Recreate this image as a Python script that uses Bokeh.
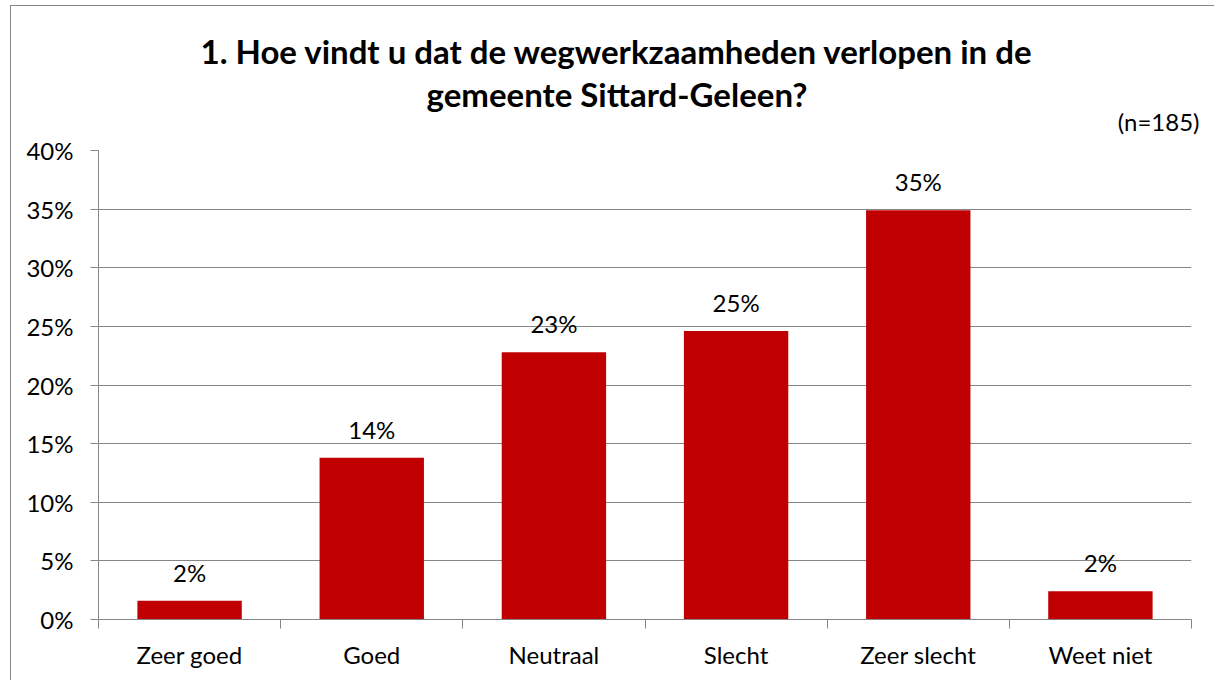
from bokeh.plotting import figure
from bokeh.models import (ColumnDataSource, FixedTicker, NumeralTickFormatter,
                          Range1d, Title)
from bokeh.core.properties import value
from bokeh.embed import file_html
from bokeh.resources import INLINE

# ---- data ----
categories = ["Zeer goed", "Goed", "Neutraal", "Slecht", "Zeer slecht", "Weet niet"]
values = [0.016, 0.138, 0.228, 0.246, 0.349, 0.024]
title_lines = ["1. Hoe vindt u dat de wegwerkzaamheden verlopen in de",
               "gemeente Sittard-Geleen?"]
n_note = "(n=185)"
y_ticks = [0.0, 0.05, 0.10, 0.15, 0.20, 0.25, 0.30, 0.35, 0.40]

FONT = "Lato"
GRAY = "#868686"
BAR = "#C00000"

xpos = [i + 0.5 for i in range(len(categories))]
labels = [f"{v:.0%}" for v in values]
src = ColumnDataSource(dict(x=xpos, top=values, lab=labels))

p = figure(width=1204, height=675, output_backend="svg", toolbar_location=None,
           x_range=Range1d(0, len(categories)), y_range=Range1d(0, 0.40),
           min_border_left=87, min_border_right=24, min_border_top=144,
           min_border_bottom=62)
p.styles = {"border-left": f"1px solid {GRAY}", "border-top": f"1px solid {GRAY}",
            "border-right": "none", "border-bottom": "none",
            "margin-left": "10px", "margin-top": "5px"}
p.outline_line_color = None
p.background_fill_color = "white"
p.border_fill_color = "white"

p.vbar(x="x", top="top", bottom=0, width=0.573, source=src,
       fill_color=BAR, line_color=None)
p.text(x="x", y="top", text="lab", source=src, text_align="center",
       text_baseline="bottom", y_offset=-14, text_font=value(FONT),
       text_font_size="24px", text_color="black")

# x axis
p.xaxis.ticker = FixedTicker(ticks=xpos, minor_ticks=list(range(len(categories) + 1)))
p.xaxis.major_label_overrides = {x: c for x, c in zip(xpos, categories)}
p.xaxis.major_tick_line_color = None
p.xaxis.minor_tick_line_color = GRAY
p.xaxis.minor_tick_out = 9
p.xaxis.minor_tick_in = 0
p.xaxis.axis_line_color = GRAY
p.xaxis.major_label_text_font = FONT
p.xaxis.major_label_text_font_size = "24px"
p.xaxis.major_label_text_color = "black"
p.xaxis.major_label_standoff = 11

# y axis
p.yaxis.ticker = FixedTicker(ticks=y_ticks, minor_ticks=[])
p.yaxis.formatter = NumeralTickFormatter(format="0%")
p.yaxis.axis_line_color = GRAY
p.yaxis.major_tick_line_color = GRAY
p.yaxis.major_tick_out = 8
p.yaxis.major_tick_in = 0
p.yaxis.minor_tick_line_color = None
p.yaxis.major_label_text_font = FONT
p.yaxis.major_label_text_font_size = "24px"
p.yaxis.major_label_text_color = "black"
p.yaxis.major_label_standoff = 17

p.xgrid.grid_line_color = None
p.ygrid.ticker = FixedTicker(ticks=y_ticks)
p.ygrid.grid_line_color = GRAY
p.ygrid.grid_line_width = 1

# titles (first added sits nearest the frame)
p.add_layout(Title(text=n_note, align="right", offset=-8, standoff=29,
                   text_font=FONT, text_font_size="24px", text_font_style="normal",
                   text_color="black"), "above")
p.add_layout(Title(text=title_lines[1], align="left", offset=328, standoff=-46,
                   text_font=FONT, text_font_size="33px", text_font_style="bold",
                   text_color="black"), "above")
p.add_layout(Title(text=title_lines[0], align="left", offset=102, standoff=40,
                   text_font=FONT, text_font_size="33px", text_font_style="bold",
                   text_color="black"), "above")

open("out.html", "w").write(file_html(p, INLINE))
